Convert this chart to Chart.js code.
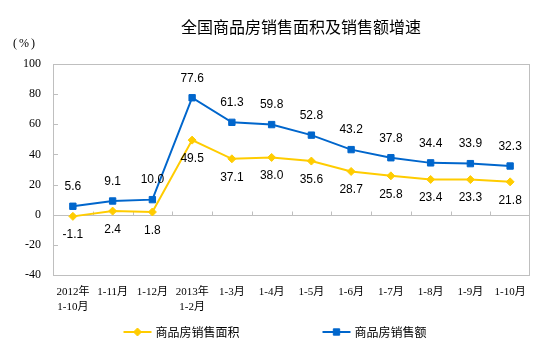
<!DOCTYPE html>
<html>
<head>
<meta charset="utf-8">
<script src="https://cdn.jsdelivr.net/npm/chart.js@4/dist/chart.umd.min.js"></script>
<style>
  html, body { margin: 0; padding: 0; background: #ffffff; }
  #wrap { width: 554px; height: 353px; }
</style>
</head>
<body>
<div id="wrap"><canvas id="c" width="554" height="353"></canvas></div>
<script>
// ---- data ----
const TITLE = '全国商品房销售面积及销售额增速';
const UNIT = '(%)';
const categories = [
  ['2012年', '1-10月'], '1-11月', '1-12月', ['2013年', '1-2月'], '1-3月', '1-4月',
  '1-5月', '1-6月', '1-7月', '1-8月', '1-9月', '1-10月'
];
const areaLabel = '商品房销售面积';
const areaValues = [-1.1, 2.4, 1.8, 49.5, 37.1, 38.0, 35.6, 28.7, 25.8, 23.4, 23.3, 21.8];
const salesLabel = '商品房销售额';
const salesValues = [5.6, 9.1, 10.0, 77.6, 61.3, 59.8, 52.8, 43.2, 37.8, 34.4, 33.9, 32.3];
const yMin = -40, yMax = 100, yStep = 20;

const YELLOW = '#FFCC00';
const BLUE = '#0066CC';
const AXIS_GRAY = '#BFBFBF';

// ---- plugins ----
const framePlugin = {
  id: 'frame',
  beforeDatasetsDraw(chart) {
    const {ctx, chartArea: a, scales} = chart;
    const x = scales.x, y = scales.y;
    ctx.save();
    ctx.strokeStyle = AXIS_GRAY;
    ctx.lineWidth = 1;
    // plot border
    ctx.strokeRect(Math.round(a.left) + 0.5, Math.round(a.top) + 0.5,
                   Math.round(a.right - a.left) - 1, Math.round(a.bottom - a.top));
    // zero line
    const y0 = Math.round(y.getPixelForValue(0)) + 0.5;
    ctx.beginPath();
    ctx.moveTo(a.left, y0); ctx.lineTo(a.right, y0);
    // category boundary ticks on zero line
    const n = categories.length;
    for (let i = 1; i < n; i++) {
      const px = Math.round((x.getPixelForValue(i - 1) + x.getPixelForValue(i)) / 2) + 0.5;
      ctx.moveTo(px, y0); ctx.lineTo(px, y0 - 4);
    }
    // y ticks (inward)
    y.ticks.forEach(t => {
      const py = Math.round(y.getPixelForValue(t.value)) + 0.5;
      ctx.moveTo(a.left, py); ctx.lineTo(a.left + 5, py);
    });
    ctx.stroke();
    ctx.restore();
  },
  afterDatasetsDraw(chart) {
    const {ctx} = chart;
    ctx.save();
    ctx.font = '12px "Liberation Sans", Arial, sans-serif';
    ctx.fillStyle = '#000000';
    ctx.textAlign = 'center';
    ctx.textBaseline = 'middle';
    chart.data.datasets.forEach((ds, di) => {
      const meta = chart.getDatasetMeta(di);
      const above = ds.labelAbove;
      meta.data.forEach((pt, i) => {
        const v = ds.data[i];
        ctx.fillText(v.toFixed(1), pt.x, above ? pt.y - 19.5 : pt.y + 18.5);
      });
    });
    ctx.restore();
  },
  afterDraw(chart) {
    const {ctx} = chart;
    ctx.save();
    // title
    ctx.fillStyle = '#000000';
    ctx.textAlign = 'center';
    ctx.textBaseline = 'middle';
    ctx.font = '16px "Noto Sans CJK SC", sans-serif';
    ctx.fillText(TITLE, 301, 27);
    // unit
    ctx.font = '12px "Liberation Serif", "Noto Sans CJK SC", serif';
    ctx.textAlign = 'left';
    try { ctx.letterSpacing = '2px'; } catch (e) {}
    ctx.fillText(UNIT, 13, 44);
    try { ctx.letterSpacing = '0px'; } catch (e) {}
    // legend
    ctx.font = '12px "Noto Sans CJK SC", sans-serif';
    const items = chart.data.datasets.map(ds => ({ds, tw: ctx.measureText(ds.label).width}));
    const lineLen = 28, gapText = 4, gapItem = 83;
    let total = 0;
    items.forEach((it, i) => { total += lineLen + gapText + it.tw + (i < items.length - 1 ? gapItem : 0); });
    let x = 275 - total / 2;
    const ly = 332;
    items.forEach(it => {
      const ds = it.ds;
      ctx.strokeStyle = ds.borderColor;
      ctx.lineWidth = 2;
      ctx.beginPath();
      ctx.moveTo(x, ly); ctx.lineTo(x + lineLen, ly);
      ctx.stroke();
      ctx.fillStyle = ds.borderColor;
      ctx.lineWidth = 1;
      Chart.helpers.drawPoint(ctx, {pointStyle: ds.pointStyle, radius: ds.pointRadius, borderWidth: 1, rotation: 0}, x + lineLen / 2, ly);
      ctx.fillStyle = '#000000';
      ctx.textAlign = 'left';
      ctx.fillText(ds.label, x + lineLen + gapText, ly);
      x += lineLen + gapText + it.tw + gapItem;
    });
    ctx.restore();
  }
};

new Chart(document.getElementById('c'), {
  type: 'line',
  data: {
    labels: categories,
    datasets: [
      {
        label: areaLabel,
        data: areaValues,
        borderColor: YELLOW,
        backgroundColor: YELLOW,
        borderWidth: 2,
        pointStyle: 'rectRot',
        pointRadius: 4,
        pointBorderWidth: 1,
        pointBackgroundColor: YELLOW,
        pointBorderColor: YELLOW,
        tension: 0,
        labelAbove: false
      },
      {
        label: salesLabel,
        data: salesValues,
        borderColor: BLUE,
        backgroundColor: BLUE,
        borderWidth: 2,
        pointStyle: 'rect',
        pointRadius: 4.5,
        pointBorderWidth: 1,
        pointBackgroundColor: BLUE,
        pointBorderColor: BLUE,
        tension: 0,
        labelAbove: true
      }
    ]
  },
  options: {
    responsive: false,
    animation: false,
    devicePixelRatio: 1,
    layout: { padding: { top: 64, right: 24, left: 0, bottom: 0 } },
    plugins: {
      legend: { display: false },
      title: { display: false },
      tooltip: { enabled: false }
    },
    scales: {
      x: {
        type: 'category',
        offset: true,
        grid: { display: false, drawTicks: false },
        border: { display: false },
        ticks: {
          color: '#000000',
          autoSkip: false,
          maxRotation: 0,
          padding: 10,
          font: { family: '"Liberation Serif", "Noto Sans CJK SC", serif', size: 11, lineHeight: 1.35 }
        },
        afterFit(scale) { scale.height = 78; }
      },
      y: {
        min: yMin,
        max: yMax,
        grid: { display: false, drawTicks: false },
        border: { display: false },
        ticks: {
          stepSize: yStep,
          color: '#000000',
          padding: 12,
          font: { family: '"Liberation Serif", serif', size: 12 }
        },
        afterFit(scale) { scale.width = 53; }
      }
    }
  },
  plugins: [framePlugin]
});
</script>
</body>
</html>
